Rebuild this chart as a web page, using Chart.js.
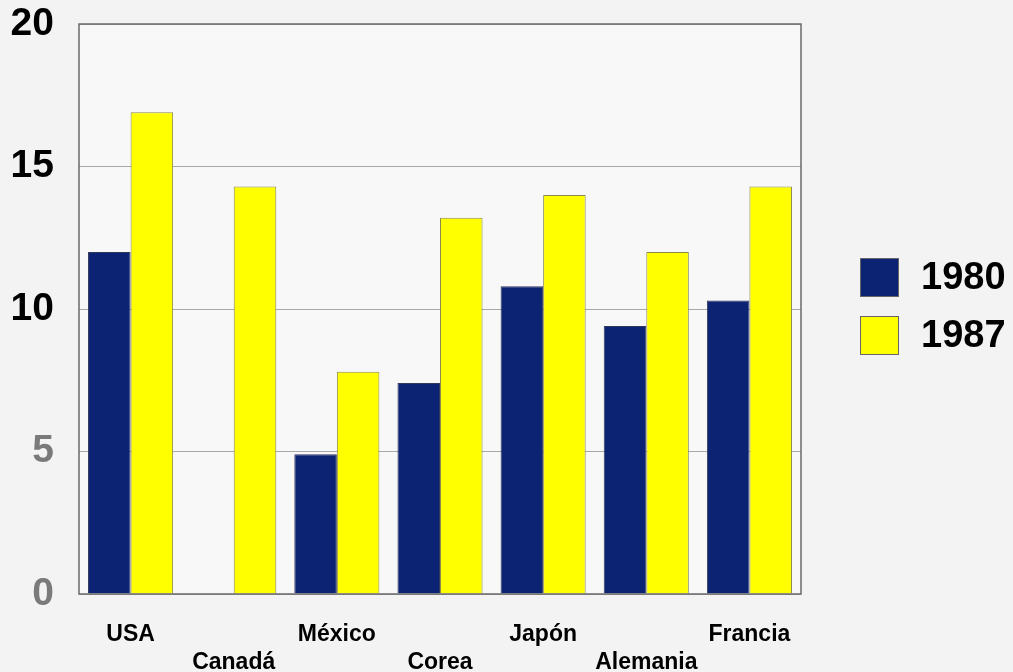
<!DOCTYPE html>
<html><head><meta charset="utf-8">
<script src="https://cdn.jsdelivr.net/npm/chart.js@4/dist/chart.umd.min.js"></script>
<style>html,body{margin:0;padding:0;background:#f3f3f3;}#wrap{width:1013px;height:672px;position:relative;}</style>
</head><body><div id="wrap"><canvas id="c" width="1013" height="672"></canvas></div>
<script>
const categories = [['USA'], ['', 'Canadá'], ['México'], ['', 'Corea'], ['Japón'], ['', 'Alemania'], ['Francia']];
const seriesLabels = ['1980', '1987'];
const values1980 = [12.0, null, 4.9, 7.4, 10.8, 9.4, 10.3];
const values1987 = [16.9, 14.3, 7.8, 13.2, 14.0, 12.0, 14.3];
const yTicks = [0, 5, 10, 15, 20];

const navy = '#0c2272', yellow = '#ffff00';

const frame = {
  id: 'frame',
  beforeDraw(chart) {
    const {ctx, chartArea: a} = chart;
    ctx.save(); ctx.fillStyle = '#f8f8f8';
    ctx.fillRect(a.left, a.top, a.right - a.left, a.bottom - a.top);
    ctx.restore();
  },
  afterDraw(chart) {
    const {ctx, chartArea: a} = chart;
    ctx.save(); ctx.strokeStyle = '#6a6a6a'; ctx.lineWidth = 1.5;
    ctx.strokeRect(a.left, a.top, a.right - a.left, a.bottom - a.top);
    const ds = chart.data.datasets;
    ctx.font = 'bold 38px "Liberation Sans", Arial, sans-serif';
    ctx.textBaseline = 'middle';
    ds.forEach((d, i) => {
      const y = 258 + i * 58;
      ctx.fillStyle = d.backgroundColor; ctx.fillRect(860, y, 39, 39);
      ctx.strokeStyle = '#666'; ctx.lineWidth = 1; ctx.strokeRect(860.5, y + 0.5, 38, 38);
      ctx.fillStyle = '#000'; ctx.fillText(d.label, 921, y + 21);
    });
    ctx.restore();
  }
};

new Chart(document.getElementById('c'), {
  type: 'bar',
  data: {
    labels: categories,
    datasets: [
      {label: seriesLabels[0], data: values1980, backgroundColor: navy, borderColor: '#33395a', borderWidth: 1},
      {label: seriesLabels[1], data: values1987, backgroundColor: yellow, borderColor: '#8a8a50', borderWidth: 1}
    ]
  },
  options: {
    responsive: false, animation: false,
    layout: {padding: {top: 0, right: 212, left: 0, bottom: 0}},
    datasets: {bar: {categoryPercentage: 0.825, barPercentage: 1.0}},
    plugins: {legend: {display: false}, tooltip: {enabled: false}},
    scales: {
      x: {
        grid: {display: false},
        border: {display: false},
        ticks: {
          color: '#000', padding: 18, maxRotation: 0, autoSkip: false,
          font: {family: '"Liberation Sans", Arial, sans-serif', weight: 'bold', size: 23, lineHeight: 1.25}
        },
        afterFit(s) { s.height = 78; }
      },
      y: {
        min: 0, max: 20,
        afterBuildTicks(s) { s.ticks = yTicks.map(v => ({value: v})); },
        grid: {color: '#a8a8a8', lineWidth: 1, drawTicks: false},
        border: {display: false},
        ticks: {
          padding: 25,
          color: ctx => (ctx.tick && ctx.tick.value <= 5) ? '#7a7a7a' : '#000',
          font: {family: '"Liberation Sans", Arial, sans-serif', weight: 'bold', size: 39, lineHeight: 1.1}
        },
        afterFit(s) { s.width = 79; s.paddingTop = 24; s.paddingBottom = 0; }
      }
    }
  },
  plugins: [frame]
});
</script></body></html>
